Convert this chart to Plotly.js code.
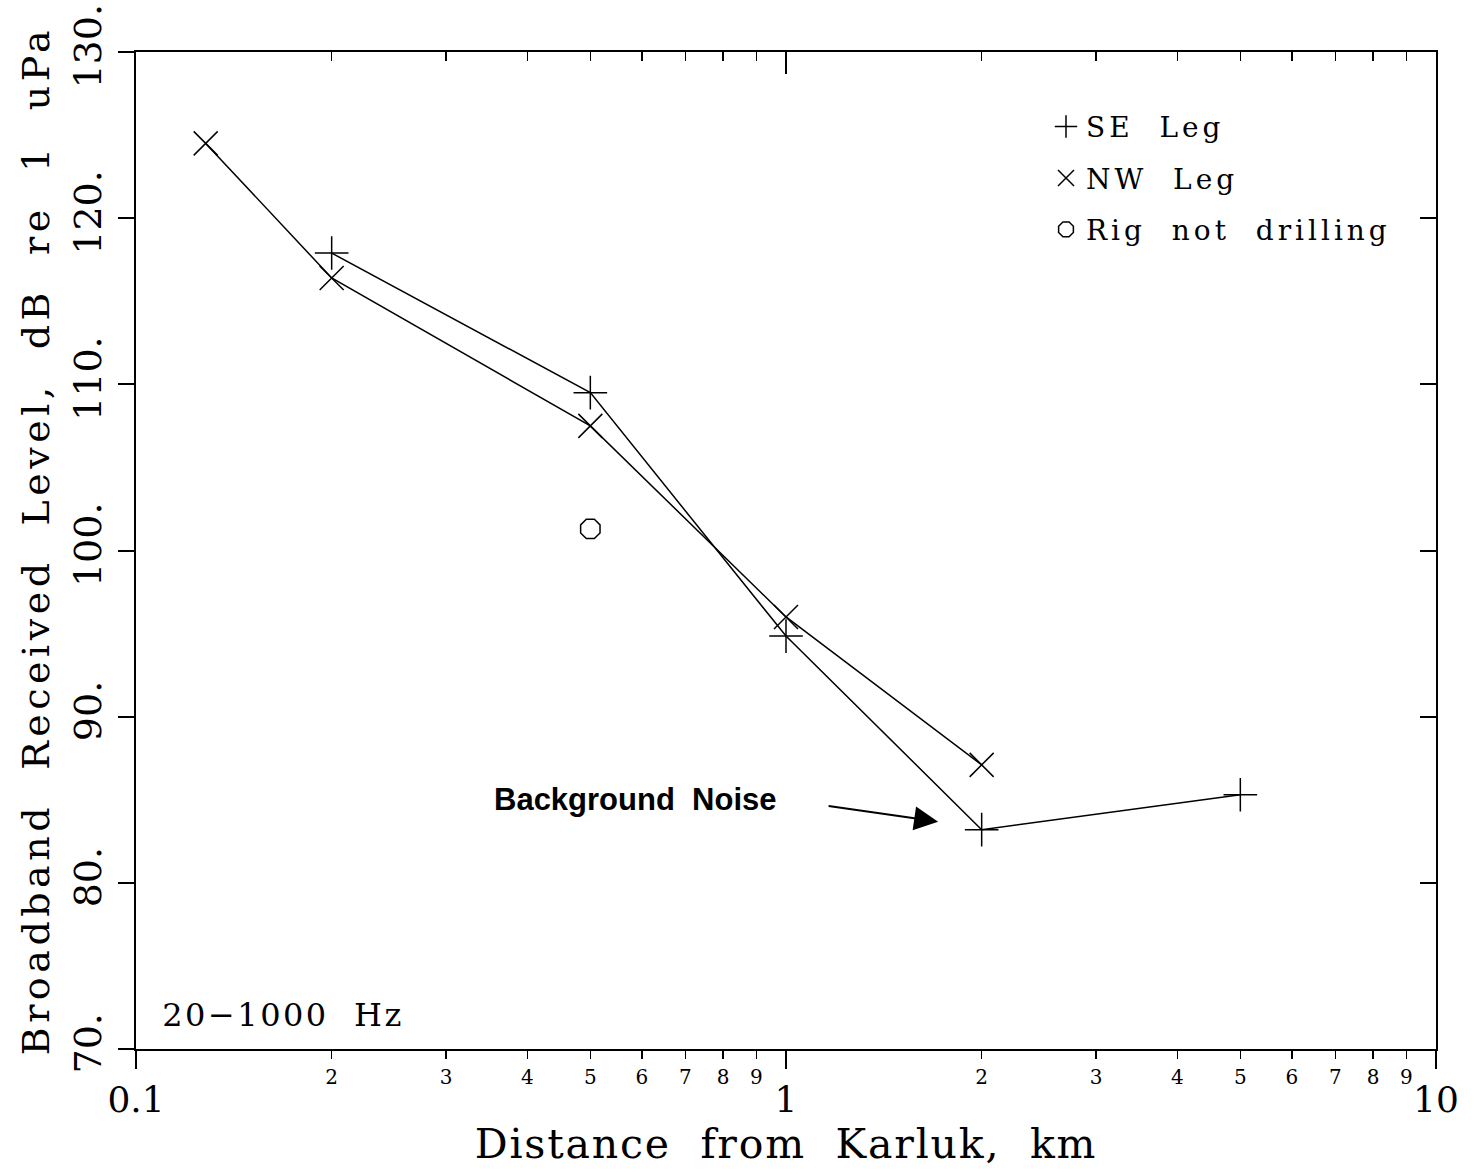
<!DOCTYPE html>
<html>
<head>
<meta charset="utf-8">
<script src="https://cdn.plot.ly/plotly-3.0.1.min.js"></script>
<style>
html, body { margin: 0; padding: 0; background: #fff; }
#chart { width: 1475px; height: 1169px; }
#chart .xtitle { letter-spacing: 1.8px; }
#chart .ytitle { letter-spacing: 4.5px; }
#chart .g-ytitle { transform: translate(0px, -10px); }
#chart .legendtext { letter-spacing: 4px; }
#chart .annotation[data-index="0"] text { letter-spacing: 2.5px; }
</style>
</head>
<body>
<div id="chart"></div>
<script>
// ---- data ----
const seDistance = [0.2, 0.5, 1.0, 2.0, 5.0];
const seLevel    = [117.9, 109.5, 94.85, 83.2, 85.3];
const nwDistance = [0.128, 0.2, 0.5, 1.0, 2.0];
const nwLevel    = [124.5, 116.4, 107.5, 96.0, 87.1];
const rigDistance = [0.5];
const rigLevel    = [101.3];

const seriesNames = ['SE\u00a0 Leg', 'NW\u00a0 Leg', 'Rig\u00a0 not\u00a0 drilling'];

const majorTickVals = [0.1, 1, 10];
const majorTickText = ['0.1', '1', '10'];
const minorTickVals = [0.2, 0.3, 0.4, 0.5, 0.6, 0.7, 0.8, 0.9, 2, 3, 4, 5, 6, 7, 8, 9];
const minorTickText = ['2', '3', '4', '5', '6', '7', '8', '9', '2', '3', '4', '5', '6', '7', '8', '9'];
const yTickVals = [70, 80, 90, 100, 110, 120, 130];
const yTickText = ['70.', '80.', '90.', '100.', '110.', '120.', '130.'];

const xTitle = 'Distance\u00a0 from\u00a0 Karluk,\u00a0 km';
const yTitle = 'Broadband\u00a0 Received\u00a0 Level,\u00a0 dB\u00a0 re\u00a0 1\u00a0 uPa';
const bandLabel = '20\u22121000\u00a0 Hz';
const noiseLabel = 'Background\u00a0 Noise';

// ---- styling ----
const SERIF = 'DejaVu Serif, Liberation Serif, serif';
const black = '#000';
const lw = 1.5;

const traces = [
  { x: seDistance, y: seLevel, mode: 'lines+markers', showlegend: false,
    line: { color: black, width: lw },
    marker: { symbol: 'cross-thin-open', size: 24, color: black, line: { color: black, width: lw } } },
  { x: nwDistance, y: nwLevel, mode: 'lines+markers', showlegend: false,
    line: { color: black, width: lw },
    marker: { symbol: 'x-thin-open', size: 24, color: black, line: { color: black, width: lw } } },
  { x: rigDistance, y: rigLevel, mode: 'markers', showlegend: false,
    marker: { symbol: 'octagon-open', size: 21, color: black, line: { color: black, width: lw } } },
  // legend entries (symbol only); they also carry the extra tick axes
  { x: [null], y: [null], xaxis: 'x2', yaxis: 'y2', mode: 'markers', name: seriesNames[0], legendgroup: 'a',
    marker: { symbol: 'cross-thin-open', size: 16, color: black, line: { color: black, width: lw } } },
  { x: [null], y: [null], xaxis: 'x3', yaxis: 'y', mode: 'markers', name: seriesNames[1], legendgroup: 'b',
    marker: { symbol: 'x-thin-open', size: 16, color: black, line: { color: black, width: lw } } },
  { x: [null], y: [null], xaxis: 'x4', yaxis: 'y', mode: 'markers', name: seriesNames[2], legendgroup: 'c',
    marker: { symbol: 'octagon-open', size: 16, color: black, line: { color: black, width: lw } } }
];

const baseX = { type: 'log', range: [-1, 1], showgrid: false, zeroline: false, color: black };

const layout = {
  width: 1475, height: 1169,
  margin: { l: 136, r: 39, t: 52, b: 120 },
  paper_bgcolor: '#fff', plot_bgcolor: '#fff',
  font: { family: SERIF, color: black },
  showlegend: true,
  legend: {
    x: 0.70, y: 0.95, xanchor: 'left', yanchor: 'top',
    font: { family: SERIF, size: 28, color: black },
    bgcolor: 'rgba(0,0,0,0)', borderwidth: 0,
    tracegroupgap: 12, traceorder: 'grouped', itemclick: false
  },
  xaxis: Object.assign({}, baseX, {
    tickmode: 'array', tickvals: majorTickVals, ticktext: majorTickText,
    ticks: 'outside', ticklen: 18, tickwidth: 2, tickcolor: black,
    tickfont: { family: SERIF, size: 36, color: black },
    ticklabelstandoff: 0,
    showline: true, linewidth: 2, linecolor: black,
    title: { text: xTitle, font: { family: SERIF, size: 41, color: black }, standoff: 5 },
    automargin: false
  }),
  xaxis2: Object.assign({}, baseX, {
    overlaying: 'x', anchor: 'y', side: 'bottom',
    tickmode: 'array', tickvals: minorTickVals, ticktext: minorTickText,
    ticks: 'outside', ticklen: 9, tickwidth: 1.5, tickcolor: black,
    tickfont: { family: SERIF, size: 20, color: black },
    ticklabelstandoff: 1,
    showline: false
  }),
  xaxis3: Object.assign({}, baseX, {
    overlaying: 'x', anchor: 'y', side: 'top',
    tickmode: 'array', tickvals: minorTickVals,
    ticks: 'inside', ticklen: 9, tickwidth: 1.5, tickcolor: black,
    showticklabels: false,
    showline: true, linewidth: 2, linecolor: black
  }),
  xaxis4: Object.assign({}, baseX, {
    overlaying: 'x', anchor: 'y', side: 'top',
    tickmode: 'array', tickvals: majorTickVals,
    ticks: 'inside', ticklen: 22, tickwidth: 2, tickcolor: black,
    showticklabels: false, showline: false
  }),
  yaxis: {
    range: [70, 130], showgrid: false, zeroline: false,
    tickmode: 'array', tickvals: yTickVals, ticktext: yTickText,
    ticks: 'outside', ticklen: 16, tickwidth: 2, tickcolor: black,
    tickangle: -90,
    tickfont: { family: SERIF, size: 38, color: black },
    ticklabelstandoff: 2,
    showline: true, linewidth: 2, linecolor: black,
    title: { text: yTitle, font: { family: SERIF, size: 38, color: black }, standoff: 4 },
    automargin: false
  },
  yaxis2: {
    overlaying: 'y', side: 'right', anchor: 'x',
    range: [70, 130], showgrid: false, zeroline: false,
    tickmode: 'array', tickvals: yTickVals,
    ticks: 'inside', ticklen: 16, tickwidth: 2, tickcolor: black,
    showticklabels: false,
    showline: true, linewidth: 2, linecolor: black
  },
  annotations: [
    { xref: 'paper', yref: 'paper', x: 0.113, y: 0.034, xanchor: 'center', yanchor: 'middle',
      text: bandLabel, showarrow: false, font: { family: SERIF, size: 32, color: black } },
    { xref: 'paper', yref: 'paper', x: 0.3846, y: 0.25, xanchor: 'center', yanchor: 'middle',
      text: '<b>' + noiseLabel + '</b>', showarrow: false,
      font: { family: 'Liberation Sans, Arial, sans-serif', size: 31, color: black } },
    { xref: 'paper', yref: 'paper', x: 0.617, y: 0.228, text: '', showarrow: true,
      ax: -111, ay: -16, arrowhead: 2, arrowsize: 2.4, arrowwidth: 2, arrowcolor: black }
  ]
};

Plotly.newPlot('chart', traces, layout, { displayModeBar: false, staticPlot: true }).then(function (gd) {
  // letter-spaced legend text is wider than Plotly measured: do not clip it
  gd.querySelectorAll('.legend .scrollbox, .legend').forEach(function (el) {
    el.removeAttribute('clip-path');
  });
});
</script>
</body>
</html>
